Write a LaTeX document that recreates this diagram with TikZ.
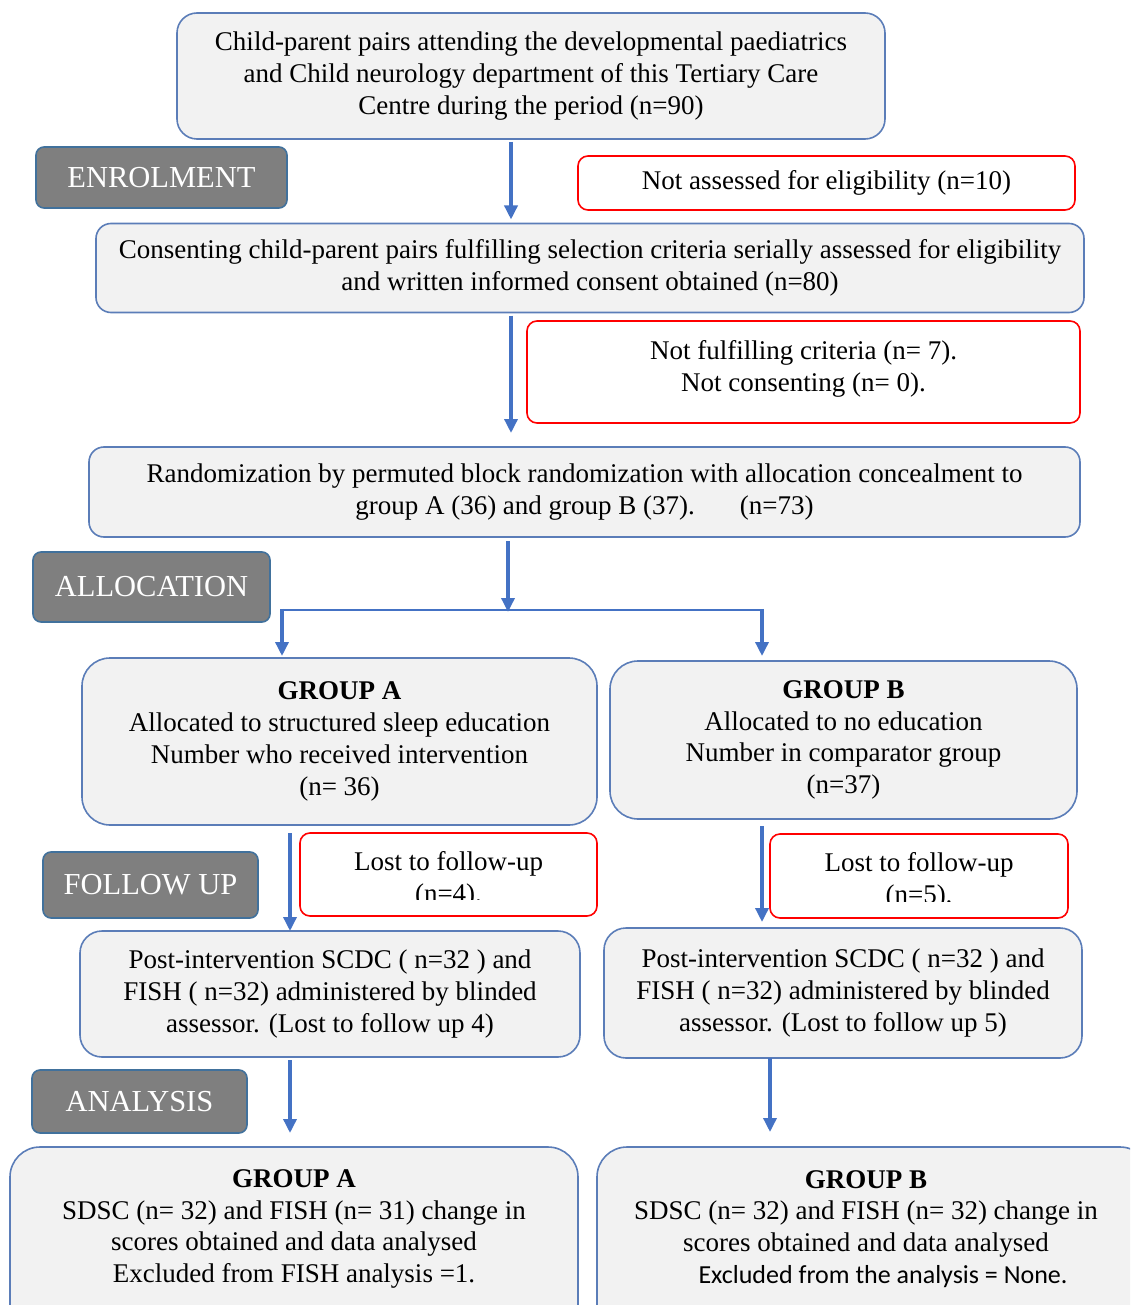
\documentclass[tikz,border=0pt]{standalone}
\usepackage{fontspec}
\setmainfont{Liberation Serif}
\newfontfamily\carlfont{Carlito}
\usetikzlibrary{arrows.meta}
\definecolor{bbord}{HTML}{5B7DB8}
\definecolor{bfill}{HTML}{F2F2F2}
\definecolor{arrblue}{HTML}{4472C4}
\definecolor{lblgray}{HTML}{7F7F7F}
\definecolor{lblbord}{HTML}{41719C}
\newcommand\maintext{\fontsize{27}{31.8}\selectfont}
\newcommand\phasetext{\fontsize{30.5}{34}\selectfont}
\begin{document}
\begin{tikzpicture}[x=1pt,y=-1pt,
 every node/.style={inner sep=0pt, outer sep=0pt},
 mainbox/.style={draw=bbord, fill=bfill, line width=1.6pt, rounded corners=#1, align=center, font=\maintext},
 mainbox/.default=15pt,
 redbox/.style={draw=red, fill=white, line width=1.6pt, rounded corners=10pt, align=center, font=\maintext},
 phase/.style={draw=lblbord, fill=lblgray, line width=1.6pt, rounded corners=8pt, text=white, font=\phasetext},
 plain/.style={align=center, font=\maintext},
 arr/.style={draw=arrblue, line width=3.4pt, -{Triangle[length=14pt,width=13pt]}},
 conn/.style={draw=arrblue, line width=2.2pt},
]
\useasboundingbox (0,0) rectangle (1130,1305);
\begin{scope}
\clip (0,0) rectangle (1130,1305);

% main boxes
\node[mainbox=20pt, minimum width=708pt, minimum height=126pt] (top) at (531,76)
 {Child-parent pairs attending the developmental paediatrics\\ and Child neurology department of this Tertiary Care\\ Centre during the period (n=90)};
\node[redbox, minimum width=497pt, minimum height=54pt] (notass) at (826.5,183)
 {Not assessed for eligibility (n=10)};
\node[mainbox=15pt, minimum width=988pt, minimum height=89pt] (consent) at (590,268)
 {Consenting child-parent pairs fulfilling selection criteria serially assessed for eligibility\\ and written informed consent obtained (n=80)};
\node[redbox, minimum width=553pt, minimum height=102pt] (notful) at (803.5,372) {};
\node[plain] (notfultxt) at (803.5,369) {Not fulfilling criteria (n= 7).\\ Not consenting (n= 0).};
\node[mainbox=15pt, minimum width=991pt, minimum height=90pt] (random) at (584.5,492)
 {Randomization by permuted block randomization with allocation concealment to\\ group A (36) and group B (37).\hspace{45pt}(n=73)};

\node[mainbox=28pt, minimum width=515pt, minimum height=167pt] (gA) at (339.5,741.5)
 {\textbf{GROUP A}\\ Allocated to structured sleep education\\ Number who received intervention\\ (n= 36)};
\node[mainbox=28pt, minimum width=467pt, minimum height=158pt] (gB) at (843.5,740)
 {\textbf{GROUP B}\\ Allocated to no education\\ Number in comparator group\\ (n=37)};

\node[redbox, minimum width=297pt, minimum height=83pt] (lostA) at (448.5,874.5) {};
\begin{scope}
\clip (lostA.north west) rectangle ([yshift=17pt]lostA.south east);
\node[plain] (lostAtxt) at (448.5,880) {Lost to follow-up\\ (n=4).};
\end{scope}
\node[redbox, minimum width=298pt, minimum height=84pt] (lostB) at (919,876) {};
\begin{scope}
\clip (lostB.north west) rectangle ([yshift=17pt]lostB.south east);
\node[plain] (lostBtxt) at (919,881) {Lost to follow-up\\ (n=5).};
\end{scope}

\node[mainbox=22pt, minimum width=500pt, minimum height=126pt] (postA) at (330,994)
 {Post-intervention SCDC ( n=32 ) and\\ FISH ( n=32) administered by blinded\\ assessor. (Lost to follow up 4)};
\node[mainbox=22pt, minimum width=478pt, minimum height=130pt] (postB) at (843,993)
 {Post-intervention SCDC ( n=32 ) and\\ FISH ( n=32) administered by blinded\\ assessor. (Lost to follow up 5)};

\node[mainbox=30pt, minimum width=568pt, minimum height=198pt] (botA) at (294,1246) {};
\node[plain] (botAtxt) at (294,1229)
 {\textbf{GROUP A}\\ SDSC (n= 32) and FISH (n= 31) change in\\ scores obtained and data analysed\\ Excluded from FISH analysis =1.};
\node[mainbox=30pt, minimum width=553pt, minimum height=198pt] (botB) at (873.5,1246) {};
\node[plain] (botBtxt) at (866,1229)
 {\textbf{GROUP B}\\ SDSC (n= 32) and FISH (n= 32) change in\\ scores obtained and data analysed\\ \hspace*{34pt}{\carlfont\fontsize{26}{31.8}\selectfont Excluded from the analysis = None.}};

% phase labels
\node[phase, minimum width=251pt, minimum height=61pt] (enrol) at (161.5,177.5) {ENROLMENT};
\node[phase, minimum width=237pt, minimum height=70pt] (alloc) at (151.5,587) {ALLOCATION};
\node[phase, minimum width=215pt, minimum height=66pt] (follow) at (150.5,885) {FOLLOW UP};
\node[phase, minimum width=215pt, minimum height=63pt] (analysis) at (139.5,1101.5) {ANALYSIS};

% connectors
\coordinate (xa) at (511,0);
\coordinate (xb) at (508,0);
\coordinate (split) at (508,610);
\coordinate (la) at (282,610);
\coordinate (lb) at (762,610);
\coordinate (xc) at (290,0);
\coordinate (xd) at (762,0);
\coordinate (xe) at (770,0);

\draw[arr] ([yshift=-3pt]top.south -| xa) -- ([yshift=4pt]consent.north -| xa);
\draw[arr] ([yshift=-3pt]consent.south -| xa) -- ([yshift=14pt]random.north -| xa);
\draw[conn] ([xshift=-1.1pt]la) -- ([xshift=1.1pt]lb);
\draw[arr] ([yshift=-4pt]random.south -| xb) -- ([yshift=-2pt]split);
\draw[arr] ([yshift=1.1pt]la) -- ([yshift=2pt]gA.north -| la);
\draw[arr] ([yshift=1.1pt]lb) -- ([yshift=5pt]gB.north -| lb);
\draw[arr] ([yshift=-8pt]gA.south -| xc) -- (postA.north -| xc);
\draw[arr] ([yshift=-7pt]gB.south -| xd) -- ([yshift=6pt]postB.north -| xd);
\draw[arr] ([yshift=-3pt]postA.south -| xc) -- ([yshift=14pt]botA.north -| xc);
\draw[arr] (postB.south -| xe) -- ([yshift=15pt]botB.north -| xe);
\end{scope}
\end{tikzpicture}
\end{document}
